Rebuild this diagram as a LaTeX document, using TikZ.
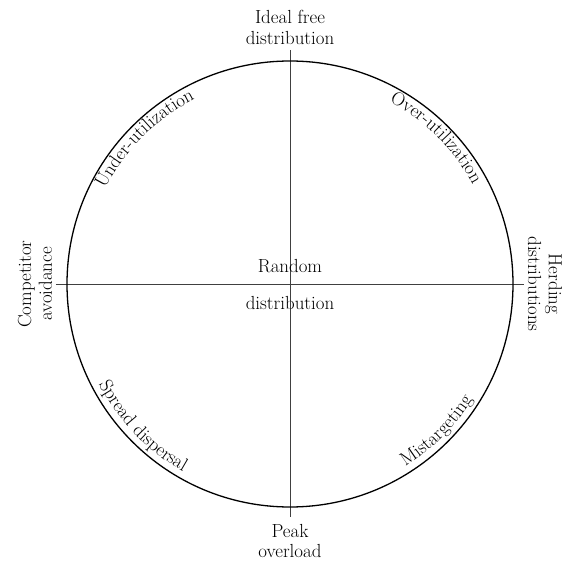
\documentclass[tikz,border=0pt]{standalone}
\usepackage{fontspec}
\usetikzlibrary{decorations.text}
\newcommand{\lblfont}{\fontsize{19}{21}\selectfont}
\begin{document}
\begin{tikzpicture}[x=1bp,y=1bp,
  axis/.style={draw=black!75, line width=0.9bp},
  ring/.style={draw=black, line width=1.3bp},
  lbl/.style={font=\lblfont, align=center, inner sep=0pt},
  arctext/.style={decorate, decoration={text along path, text align=center, text={|\lblfont|#1}}}]
\useasboundingbox (-290,-278) rectangle (273,284);
\coordinate (o) at (0,0);
\coordinate (l) at (-234,0);
\coordinate (r) at (234,0);
\coordinate (t) at (0,234);
\coordinate (b) at (0,-233);
\draw[axis] (l) -- (r);
\draw[axis] (t) -- (b);
\draw[ring] (o) circle[radius=223];
\node[lbl] (ideal) at (0,257) {Ideal free\\distribution};
\node[lbl] (peak) at (0,-257) {Peak\\overload};
\node[lbl, rotate=90] (comp) at (-255,0) {Competitor\\avoidance};
\node[lbl, rotate=-90] (herd) at (255,0) {Herding\\distributions};
\node[lbl] (rand) at (0,18) {Random};
\node[lbl] (dist) at (0,-19) {distribution};
\path[arctext={Under-utilization}] (160:208) arc[start angle=160, end angle=110, radius=208];
\path[arctext={Over-utilization}] (70:208) arc[start angle=70, end angle=20, radius=208];
\path[arctext={Spread dispersal}] (199:216) arc[start angle=199, end angle=249, radius=216];
\path[arctext={Mistargeting}] (290:216) arc[start angle=290, end angle=340, radius=216];
\end{tikzpicture}
\end{document}
